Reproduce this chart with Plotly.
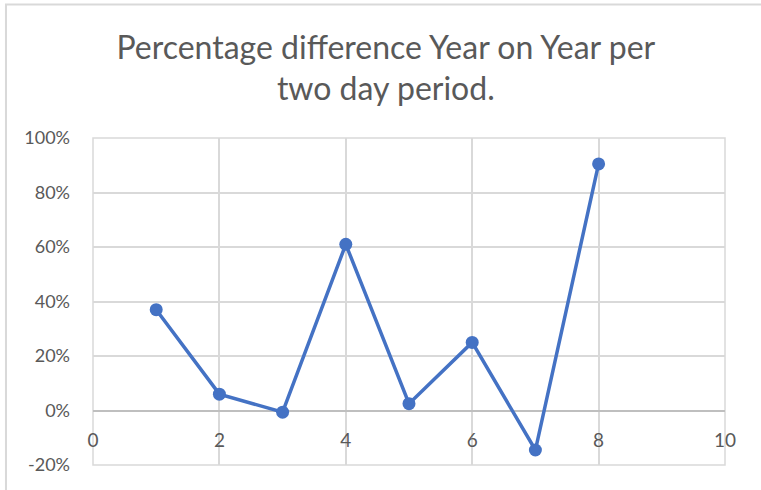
import plotly.graph_objects as go

# ── Data ─────────────────────────────────────────────────────────────────────
periods = [1, 2, 3, 4, 5, 6, 7, 8]
pct_diff = [0.37, 0.06, -0.006, 0.61, 0.025, 0.25, -0.145, 0.905]

x_ticks = [0, 2, 4, 6, 8, 10]
y_ticks = [-0.2, 0.0, 0.2, 0.4, 0.6, 0.8, 1.0]
y_tick_labels = ["-20%", "0%", "20%", "40%", "60%", "80%", "100%"]

TITLE = "Percentage difference Year on Year per<br>two day period."

LINE_BLUE = "#4472C4"
GRID = "#d9d9d9"
TEXT = "#595959"
FONT = "Lato, Noto Sans, sans-serif"

# ── Figure ───────────────────────────────────────────────────────────────────
fig = go.Figure(
    go.Scatter(
        x=periods, y=pct_diff,
        mode="lines+markers",
        line=dict(color=LINE_BLUE, width=3.5),
        marker=dict(color=LINE_BLUE, size=13),
        hovertemplate="%{x}: %{y:.0%}<extra></extra>",
    )
)

# y position of the x axis (at 0%) as a fraction of the plot height
y0_frac = (0 - y_ticks[0]) / (y_ticks[-1] - y_ticks[0])

fig.update_layout(
    width=761, height=490,
    paper_bgcolor="white", plot_bgcolor="white",
    font=dict(family=FONT, color=TEXT, size=18),
    showlegend=False,
    margin=dict(l=93, r=36, t=138, b=25),
    title=dict(
        text=TITLE,
        font=dict(size=32, color=TEXT, family=FONT),
        x=0.507, xanchor="center",
        y=0.88, yanchor="middle",
    ),
    xaxis=dict(
        range=[0, 10], tickvals=x_ticks,
        showgrid=True, gridcolor=GRID, gridwidth=1.5,
        zeroline=False, showline=False, ticks="",
        anchor="free", position=y0_frac,
        ticklabelstandoff=16,
        tickfont=dict(size=19, color=TEXT),
    ),
    yaxis=dict(
        range=[y_ticks[0], y_ticks[-1]],
        tickvals=y_ticks, ticktext=y_tick_labels,
        showgrid=True, gridcolor=GRID, gridwidth=1.5,
        zeroline=True, zerolinecolor="#bfbfbf", zerolinewidth=2,
        showline=False, ticks="",
        ticklabelstandoff=22,
        tickfont=dict(size=18, color=TEXT),
    ),
    shapes=[
        # chart-area outline (top and left edges visible)
        dict(type="rect", xref="paper", yref="paper",
             x0=-0.1377, x1=1.08, y0=-0.12, y1=1.408,
             line=dict(color=GRID, width=2), layer="below"),
        # plot-area frame (grid at the range edges)
        dict(type="rect", xref="paper", yref="paper",
             x0=0, x1=1, y0=0, y1=1,
             line=dict(color=GRID, width=1.5), layer="below"),
    ],
)

fig.write_html(
    "out.html",
    config={"displayModeBar": False},
    post_script="document.body.style.margin='0';",
)
